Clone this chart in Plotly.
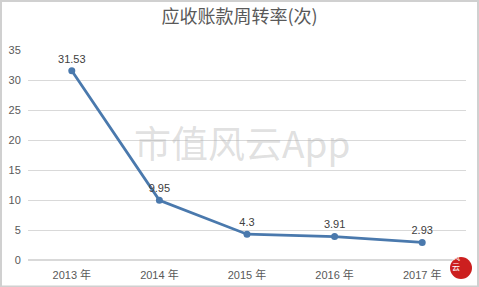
import plotly.graph_objects as go

years = ["2013 年", "2014 年", "2015 年", "2016 年", "2017 年"]
values = [31.53, 9.95, 4.3, 3.91, 2.93]
labels = ["31.53", "9.95", "4.3", "3.91", "2.93"]
y_ticks = [0, 5, 10, 15, 20, 25, 30, 35]

W, H = 479, 287
ml, mr, mt, mb = 28, 13, 50, 27
pw, ph = W - ml - mr, H - mt - mb

fig = go.Figure()
fig.add_trace(go.Scatter(
    x=years, y=values, mode="lines+markers+text",
    text=labels, textposition="top center",
    textfont=dict(family="Liberation Sans, Arial", size=11, color="#404040"),
    line=dict(color="#4a79ad", width=2.8),
    marker=dict(color="#4a79ad", size=7),
    cliponaxis=False, showlegend=False,
))

fig.update_layout(
    width=W, height=H,
    margin=dict(l=ml, r=mr, t=mt, b=mb, autoexpand=False),
    paper_bgcolor="white", plot_bgcolor="white",
    title=dict(text="应收账款周转率(次)", x=0.5, xanchor="center", y=1 - 17 / H, yanchor="middle",
               font=dict(family="Noto Sans CJK SC", size=18, color="#595959")),
    xaxis=dict(type="category", range=[-0.5, 4.5], showgrid=False, showline=False, automargin=False,
               ticks="outside", ticklen=5, tickcolor="rgba(0,0,0,0)",
               tickfont=dict(family="Liberation Sans, Noto Sans CJK SC", size=11, color="#595959")),
    yaxis=dict(range=[0, 35], tickvals=y_ticks, showgrid=True, gridcolor="#d9d9d9", gridwidth=1,
               zeroline=True, zerolinecolor="#d9d9d9", showline=False, automargin=False,
               ticks="outside", ticklen=4, tickcolor="rgba(0,0,0,0)",
               tickfont=dict(family="Liberation Sans", size=11, color="#595959")),
    font=dict(family="Liberation Sans"),
)

# outer border
fig.add_shape(type="rect", xref="paper", yref="paper",
              x0=-ml / pw + 1 / pw, x1=1 + (mr - 1) / pw, y0=-mb / ph + 0.5 / ph, y1=1 + (mt - 1) / ph,
              line=dict(color="#d0d0d0", width=2), layer="below")

# watermark
fig.add_annotation(text="市值风云App", xref="paper", yref="paper",
                   x=(242 - ml) / pw, y=1 - (142 - mt) / ph, showarrow=False,
                   font=dict(family="Noto Sans CJK SC", size=37, color="rgba(175,175,175,0.4)"))

# logo
cx, cy, r = 461, 268, 11
fig.add_shape(type="circle", xref="paper", yref="paper",
              x0=(cx - r - ml) / pw, x1=(cx + r - ml) / pw,
              y0=1 - (cy + r - mt) / ph, y1=1 - (cy - r - mt) / ph,
              fillcolor="#cc1f1f", line=dict(width=0))
for ch, dy in (("风", -5), ("云", 5)):
    fig.add_annotation(text=ch, xref="paper", yref="paper",
                       x=(cx - ml) / pw, y=1 - (cy + dy - mt) / ph, showarrow=False,
                       borderpad=0,
                       font=dict(family="Noto Sans CJK SC", size=8, color="white"))

fig.write_html("out.html")
